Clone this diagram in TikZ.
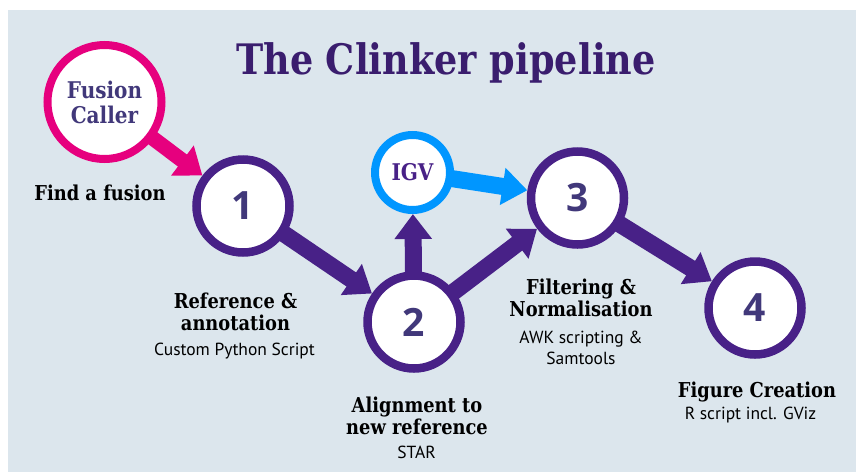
\documentclass[tikz,border=0pt]{standalone}
\usepackage{fontspec}
\usepackage{xcolor}
\usepackage{tikz}
\usetikzlibrary{positioning,arrows.meta,backgrounds}
\setmainfont{PT Sans}
\newfontfamily\headfont[FakeStretch=0.87]{DejaVu Serif}
\newfontfamily\numfont{Open Sans}
\definecolor{bgblue}{HTML}{DCE6ED}
\definecolor{clinkpurple}{HTML}{482187}
\definecolor{titlepurple}{HTML}{3A1D6E}
\definecolor{numpurple}{HTML}{41387A}
\definecolor{fusionpink}{HTML}{E6007E}
\definecolor{igvblue}{HTML}{0096FF}

\begin{document}
\begin{tikzpicture}[x=1pt, y=-1pt,
    stage/.style={circle, draw=clinkpurple, line width=8.5pt, fill=white,
        minimum size=93pt, inner sep=0pt, text=numpurple,
        font=\numfont\bfseries\fontsize{39}{39}\selectfont},
    tool/.style={circle, line width=8pt, fill=white, inner sep=0pt,
        align=center, text=numpurple,
        font=\headfont\bfseries\fontsize{23}{25}\selectfont},
    flow/.style={line width=17pt, draw=clinkpurple, shorten <=-4pt,
        -{Triangle[length=25pt, width=36pt]}},
    head/.style={align=center, anchor=base, inner sep=0pt,
        font=\headfont\bfseries\fontsize{20.5}{22}\selectfont},
    sub/.style={align=center, anchor=base, inner sep=0pt,
        font=\fontsize{17.5}{21}\selectfont}]
    \useasboundingbox (0,0) rectangle (856,472);
    \begin{scope}[on background layer]
        \fill[bgblue] (8,10) rectangle (856,472);
    \end{scope}

    \node[anchor=base, text=titlepurple, font=\headfont\bfseries\fontsize{42}{42}\selectfont]
        (title) at (446,74) {The Clinker pipeline};

    % tools
    \node[tool, draw=fusionpink, minimum size=114pt] (caller) at (104.5,102) {Fusion\\Caller};
    \node[tool, draw=igvblue, minimum size=75pt, text=clinkpurple] (igv) at (412.5,172.5) {IGV};

    % pipeline stages
    \node[stage] (s1) at (243,206) {1};
    \node[stage] (s2) at (414,322) {2};
    \node[stage] (s3) at (577.5,198) {3};
    \node[stage] (s4) at (755,308) {4};

    \begin{scope}[on background layer]
        \draw[flow, draw=fusionpink, line width=15pt] (caller) -- (s1);
        \draw[flow] (s1) -- (s2);
        \draw[flow] (s2) -- (igv);
        \draw[flow] (s2) -- (s3);
        \draw[flow, draw=igvblue] (igv) -- (s3);
        \draw[flow] (s3) -- (s4);
    \end{scope}

    % labels (base = last line)
    \node[head] (find) at (100,200) {Find a fusion};
    \node[head] (refhead) at (235.5,330) {Reference \&\\annotation};
    \node[sub] (refsub) at (234.5,355) {Custom Python Script};
    \node[head] (alhead) at (417,434) {Alignment to\\new reference};
    \node[sub] (alsub) at (416.5,458) {STAR};
    \node[head] (filthead) at (581,316) {Filtering \&\\Normalisation};
    \node[sub] (filtsub) at (581,364) {AWK scripting \&\\Samtools};
    \node[head] (fighead) at (757,397) {Figure Creation};
    \node[sub] (figsub) at (750.5,419) {R script incl. GViz};
\end{tikzpicture}
\end{document}
